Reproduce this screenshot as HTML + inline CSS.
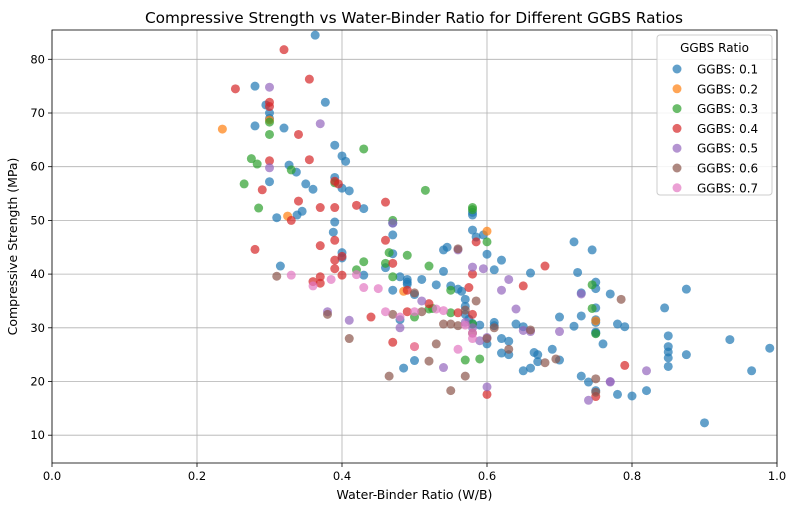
<!DOCTYPE html>
<html><head><meta charset="utf-8"><style>
body{margin:0;background:#fff;font-family:"DejaVu Sans","Liberation Sans",sans-serif;}
svg text{font-family:"DejaVu Sans","Liberation Sans",sans-serif;fill:#000;}
</style></head><body>
<svg id="chart" width="791" height="510"></svg>
<script>
const seriesNames=["GGBS: 0.1","GGBS: 0.2","GGBS: 0.3","GGBS: 0.4","GGBS: 0.5","GGBS: 0.6","GGBS: 0.7"];
const colors=["#1f77b4","#ff7f0e","#2ca02c","#d62728","#9467bd","#8c564b","#e377c2"];
const xTicks=[0,0.2,0.4,0.6,0.8,1.0];
const xTickLabels=["0.0","0.2","0.4","0.6","0.8","1.0"];
const yTicks=[10,20,30,40,50,60,70,80];
const s01=[[0.363,84.5],[0.28,75],[0.377,72],[0.28,67.6],[0.32,67.2],[0.30,70],[0.30,69],[0.295,71.5],[0.30,57.2],[0.31,50.5],[0.315,41.5],[0.327,60.3],[0.337,59],[0.338,51],[0.345,51.7],[0.35,56.8],[0.36,55.8],[0.39,64],[0.40,62],[0.405,61],[0.39,58],[0.40,56],[0.41,55.5],[0.43,52.2],[0.39,49.7],[0.388,47.8],[0.40,44],[0.40,43],[0.47,49.5],[0.47,47.3],[0.47,43.8],[0.46,41.2],[0.48,39.5],[0.49,39],[0.49,38.1],[0.50,36.2],[0.51,39],[0.48,31.5],[0.47,37],[0.485,22.5],[0.50,23.9],[0.54,44.5],[0.545,45],[0.53,38],[0.54,40.5],[0.55,37.8],[0.56,37.2],[0.565,36.8],[0.57,35.3],[0.58,51],[0.58,51.5],[0.58,48.2],[0.585,46.9],[0.595,47.3],[0.61,40.8],[0.60,43.7],[0.62,42.6],[0.575,31.6],[0.57,32.5],[0.58,30.8],[0.59,30.5],[0.61,31],[0.61,30.4],[0.62,28],[0.62,25.3],[0.63,27.5],[0.63,25],[0.64,30.7],[0.65,30.2],[0.65,22],[0.66,22.5],[0.66,40.2],[0.67,23.7],[0.665,25.4],[0.67,25],[0.69,26],[0.70,32],[0.70,24],[0.72,46],[0.725,40.3],[0.72,30.3],[0.73,32.2],[0.73,21],[0.74,19.9],[0.745,44.5],[0.75,38.5],[0.75,37.3],[0.75,33.7],[0.75,31.5],[0.75,31],[0.75,29.2],[0.75,18.3],[0.76,27],[0.77,36.3],[0.78,30.7],[0.78,17.6],[0.79,30.2],[0.80,17.3],[0.82,18.3],[0.845,33.7],[0.85,22.8],[0.85,28.5],[0.85,26.5],[0.85,25.5],[0.85,24.4],[0.875,37.2],[0.875,25],[0.90,12.3],[0.935,27.8],[0.965,22],[0.99,26.2],[0.73,36.5],[0.75,29],[0.60,27],[0.57,34],[0.49,38.5],[0.43,39.8]];
const s02=[[0.235,67],[0.30,68.7],[0.325,50.8],[0.485,36.8],[0.60,48],[0.75,31.3],[0.50,26.5]];
const s03=[[0.265,56.8],[0.275,61.5],[0.285,52.3],[0.283,60.5],[0.30,66],[0.30,68.3],[0.33,59.4],[0.39,57],[0.43,63.3],[0.42,40.8],[0.43,42.3],[0.46,42],[0.47,39.5],[0.47,50],[0.465,44],[0.49,43.5],[0.515,55.6],[0.52,41.5],[0.50,32],[0.52,33.5],[0.55,32.8],[0.55,37],[0.58,52.4],[0.58,52],[0.60,46],[0.58,30.7],[0.59,24.2],[0.745,38],[0.75,28.9],[0.745,33.6],[0.57,24],[0.525,33.6]];
const s04=[[0.32,81.8],[0.253,74.5],[0.355,76.3],[0.30,71.2],[0.30,72],[0.34,66],[0.355,61.3],[0.30,61.1],[0.29,55.7],[0.28,44.6],[0.33,50],[0.34,53.6],[0.37,52.4],[0.39,52.4],[0.39,57.3],[0.395,56.8],[0.42,52.8],[0.37,45.3],[0.39,46.3],[0.40,43.3],[0.36,38.6],[0.37,39.5],[0.39,42.6],[0.39,41],[0.37,38.3],[0.40,39.8],[0.44,32],[0.46,53.4],[0.46,46.3],[0.47,27.3],[0.49,33],[0.49,37],[0.47,42],[0.52,34.5],[0.56,32.8],[0.58,40],[0.585,46],[0.60,17.6],[0.58,32.5],[0.65,37.8],[0.68,41.5],[0.79,23],[0.75,17.2],[0.575,37.5]];
const s05=[[0.30,74.8],[0.37,68],[0.30,59.8],[0.38,33],[0.41,31.4],[0.48,30],[0.47,49.5],[0.56,44.5],[0.58,41.3],[0.595,41],[0.57,31],[0.58,30],[0.59,27.6],[0.60,19],[0.54,22.6],[0.60,28.2],[0.62,37],[0.63,39],[0.64,33.5],[0.65,29.5],[0.66,29.3],[0.70,29.3],[0.73,36.3],[0.74,16.5],[0.77,20],[0.77,19.9],[0.82,22],[0.51,35]];
const s06=[[0.31,39.6],[0.38,32.5],[0.41,28],[0.465,21],[0.47,32.5],[0.51,33],[0.50,36.5],[0.52,23.8],[0.53,27],[0.55,18.3],[0.56,44.7],[0.55,30.7],[0.57,21],[0.56,30.4],[0.585,35],[0.58,29],[0.60,28],[0.61,30],[0.63,26],[0.66,29.6],[0.68,23.5],[0.695,24.2],[0.785,35.3],[0.75,20.5],[0.75,18],[0.57,33.3],[0.54,30.7]];
const s07=[[0.33,39.8],[0.36,37.8],[0.385,39],[0.42,39.9],[0.43,37.5],[0.45,37.3],[0.46,33],[0.50,33],[0.53,33.5],[0.54,33.2],[0.57,30.5],[0.58,28],[0.56,26],[0.58,29],[0.50,26.5],[0.48,32]];
const allSeries=[s01,s02,s03,s04,s05,s06,s07];

const NS="http://www.w3.org/2000/svg";
const svg=document.getElementById('chart');
const L=52,R=777,T=30,B=463;
const xs=v=>L+v*(R-L);
const ys=v=>59.3+(80-v)*5.37;
function mk(tag,at,parent){const e=document.createElementNS(NS,tag);for(const k in at)e.setAttribute(k,at[k]);(parent||svg).appendChild(e);return e;}

const title=mk('text',{x:414,y:23,'text-anchor':'middle','font-size':15.3});
title.textContent="Compressive Strength vs Water-Binder Ratio for Different GGBS Ratios";



const grid=mk('g',{});


xTicks.forEach((t,i)=>{
  const x=xs(t);
  mk('line',{x1:x,x2:x,y1:T,y2:B,stroke:'#b0b0b0','stroke-width':0.8},grid);
  mk('line',{x1:x,x2:x,y1:B,y2:B+4,stroke:'#000','stroke-width':0.8});
  const tx=mk('text',{x:x,y:B+17,'text-anchor':'middle','font-size':11.5});
  tx.textContent=xTickLabels[i];
  
  
});
yTicks.forEach(t=>{
  const y=ys(t);
  mk('line',{x1:L,x2:R,y1:y,y2:y,stroke:'#b0b0b0','stroke-width':0.8},grid);
  mk('line',{x1:L-4,x2:L,y1:y,y2:y,stroke:'#000','stroke-width':0.8});
  const tx=mk('text',{x:L-7,y:y+4,'text-anchor':'end','font-size':11.5});
  tx.textContent=String(t);
  
  
});

allSeries.forEach((s,si)=>{
  const g=mk('g',{fill:colors[si],'fill-opacity':0.7});
  
  
  s.forEach(p=>{
    const c=mk('circle',{cx:xs(p[0]),cy:ys(p[1]),r:4.5},g);
    
    
  });
});

const frame=mk('rect',{x:L,y:T,width:R-L,height:B-T,fill:'none',stroke:'#000','stroke-width':0.8});



const xl=mk('text',{x:(L+R)/2,y:499,'text-anchor':'middle','font-size':12.5});
xl.textContent="Water-Binder Ratio (W/B)";


const yl=mk('text',{x:0,y:0,'text-anchor':'middle','font-size':12.5,transform:'translate(17,'+((T+B)/2)+') rotate(-90)'});
yl.textContent="Compressive Strength (MPa)";



const lg=mk('g',{});


mk('rect',{x:657,y:35,width:115,height:160,rx:3,fill:'#fff','fill-opacity':0.85,stroke:'#ccc'},lg);
const lt=mk('text',{x:714.5,y:52,'text-anchor':'middle','font-size':12},lg);
lt.textContent="GGBS Ratio";


seriesNames.forEach((n,i)=>{
  const y=69+i*19.8;
  const e=mk('g',{},lg);
  
  
  mk('circle',{cx:677,cy:y,r:4.5,fill:colors[i],'fill-opacity':0.7},e);
  const t=mk('text',{x:697,y:y+4.5,'font-size':12},e);
  t.textContent=n;
});
</script>
</body></html>
